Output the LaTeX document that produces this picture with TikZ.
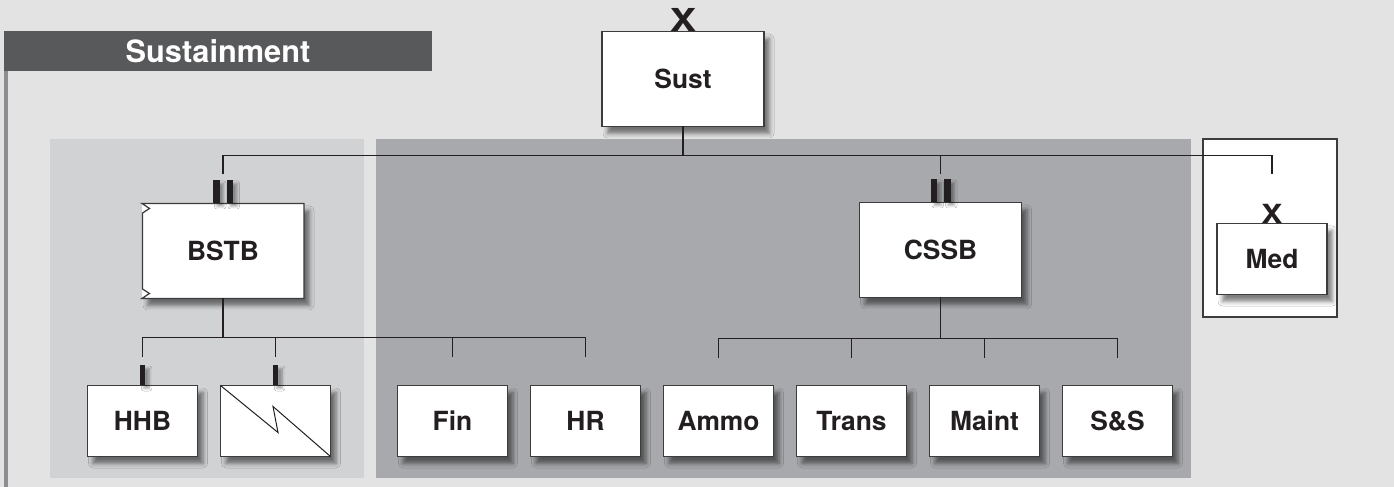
\documentclass[tikz,border=0pt]{standalone}
\usepackage{fontspec}
\setmainfont{TeX Gyre Heros}
\usepackage{graphicx}
\usepackage{tikz}
\usetikzlibrary{positioning,calc,shadows.blur}

\definecolor{paper}{HTML}{E3E3E3}
\definecolor{lightpanel}{HTML}{D1D2D4}
\definecolor{darkpanel}{HTML}{A7A9AC}
\definecolor{headgray}{HTML}{58595B}
\definecolor{railgray}{HTML}{8C8D90}
\definecolor{ink}{HTML}{231F20}
\definecolor{edgegray}{HTML}{3C3C3C}

\newcommand{\unitfont}{\fontsize{15pt}{17pt}\selectfont\bfseries}

\begin{document}
\begin{tikzpicture}[
  node distance=4.6mm and 4.6mm,
  soft/.style={blur shadow={shadow xshift=1.1mm, shadow yshift=-1.4mm, shadow blur radius=0.9mm, shadow opacity=50}},
  unit/.style={rectangle, draw=edgegray, fill=white, line width=0.25mm, inner sep=0pt, outer sep=0pt,
    minimum width=22mm, minimum height=14.2mm, font=\unitfont, text=ink, soft},
  bn/.style={unit, minimum width=32.4mm, minimum height=19mm},
  conn/.style={draw=ink, line width=0.25mm},
  bar/.style={rectangle, fill=ink, inner sep=0pt, outer sep=0pt, anchor=south, minimum width=1.3mm, minimum height=4.6mm,
    blur shadow={shadow xshift=0.8mm, shadow yshift=-0.6mm, shadow blur radius=0.5mm, shadow opacity=35}},
  onebar/.style={bar, minimum width=1.1mm, minimum height=4mm},
  xmark/.style={inner sep=0pt, text=ink, anchor=base, font=\bfseries}
]
\useasboundingbox (0,0) rectangle (278.8mm,-97.4mm);
\fill[paper] (0,0) rectangle (278.8mm,-97.4mm);

% Shaded groups and the Med frame
\fill[lightpanel] (10mm,-27.8mm) rectangle (72.8mm,-95.6mm);
\fill[darkpanel] (75.2mm,-27.8mm) rectangle (238.2mm,-95.6mm);
\draw[edgegray, fill=white, line width=0.25mm] (240.6mm,-27.8mm) rectangle (267.4mm,-63.4mm);

% Title bar
\node[fill=headgray, text=white, font=\fontsize{17.5pt}{20pt}\selectfont\bfseries,
  minimum width=85.6mm, minimum height=8mm, inner sep=0pt] (hdr) at (43.6mm,-10.2mm) {Sustainment};
\draw[railgray, line width=0.8mm] ([xshift=0.4mm]hdr.south west) -- ++(0,-83.2mm);

% Top layer: brigade
\node[bn] (SUST) at (136.6mm,-15.8mm) {Sust};
\node[xmark] (sustX) at (SUST.north) {\fontsize{18pt}{18pt}\selectfont\scalebox{1.25}[1]{X}};

% LEVEL 2
\node[bn, draw=none, below=15.4mm of SUST, xshift=-92mm] (BSTB) {BSTB};
\node[bn, below=15.2mm of SUST, xshift=51.5mm] (CSSB) {CSSB};
\node[unit, below=19.4mm of SUST, xshift=117.8mm] (MED) {Med};
\node[xmark] (medX) at (MED.north) {\fontsize{15pt}{15pt}\selectfont\scalebox{1.2}[1]{X}};

% BSTB outline with the break marks on its left side
\draw[edgegray, line width=0.25mm] (BSTB.north west) -- (BSTB.north east) -- (BSTB.south east)
  -- (BSTB.south west) -- ++(1.5mm,1mm) -- ++(-1.4mm,0.9mm)
  -- ($(BSTB.north west)+(0.1mm,-1.9mm)$) -- ++(1.4mm,0.9mm) -- cycle;

% battalion marks
\node[bar] (bstbL) at ([xshift=-1.35mm]BSTB.north) {};
\node[bar] (bstbR) at ([xshift=1.35mm]BSTB.north) {};
\node[bar] (cssbL) at ([xshift=-1.35mm]CSSB.north) {};
\node[bar] (cssbR) at ([xshift=1.35mm]CSSB.north) {};

% LEVEL 3
\node[unit, below=17.4mm of BSTB, xshift=-16.1mm] (HHB) {HHB};
\node[unit, right=of HHB] (SIG) {};
\node[unit, right=13.4mm of SIG] (FIN) {Fin};
\node[unit, right=of FIN] (HR) {HR};
\node[unit, right=of HR] (AMMO) {Ammo};
\node[unit, right=of AMMO] (TRANS) {Trans};
\node[unit, right=of TRANS] (MAINT) {Maint};
\node[unit, right=of MAINT] (SS) {S\&S};

\node[onebar] (hhbI) at (HHB.north) {};
\node[onebar] (sigI) at (SIG.north) {};
\draw[ink, line width=0.2mm] (SIG.north west) -- ($(SIG.center)+(0.5mm,-2.3mm)$)
  -- ($(SIG.center)+(-0.5mm,2.9mm)$) -- (SIG.south east);

% Edges: brigade bus
\coordinate (bus) at ($(SUST.south)+(0,-5.8mm)$);
\draw[conn] (SUST.south) -- (bus);
\draw[conn] ($(bus -| BSTB.north)+(0,-3.8mm)$) |- (bus -| MED.north) -- ++(0,-3.8mm);
\draw[conn] (bus -| CSSB.north) -- ++(0,-3.8mm);

% Edges: BSTB
\coordinate (bstbBus) at ($(BSTB.south)+(0,-7.8mm)$);
\draw[conn] (BSTB.south) -- (bstbBus);
\draw[conn] ($(bstbBus -| HHB.north)+(0,-4mm)$) |- (bstbBus -| HR.north) -- ++(0,-4mm);
\foreach \u in {SIG,FIN}
  \draw[conn] (bstbBus -| \u.north) -- ++(0,-4mm);

% Edges: CSSB
\coordinate (cssbBus) at ($(CSSB.south)+(0,-8.2mm)$);
\draw[conn] (CSSB.south) -- (cssbBus);
\draw[conn] ($(cssbBus -| AMMO.north)+(0,-4mm)$) |- (cssbBus -| SS.north) -- ++(0,-4mm);
\foreach \u in {TRANS,MAINT}
  \draw[conn] (cssbBus -| \u.north) -- ++(0,-4mm);

\end{tikzpicture}
\end{document}
